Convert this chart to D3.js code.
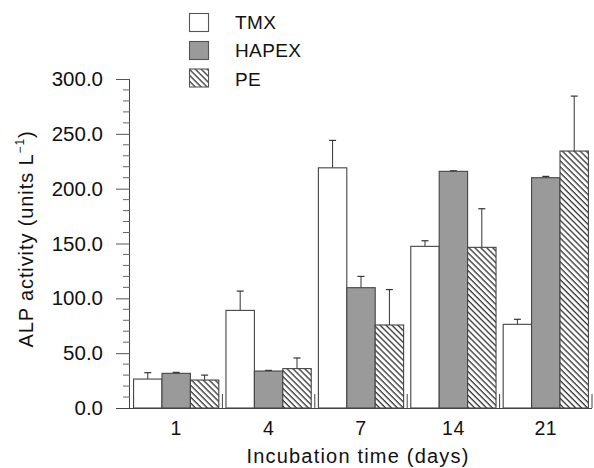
<!DOCTYPE html>
<html><head><meta charset="utf-8">
<script src="https://cdn.jsdelivr.net/npm/d3@7"></script>
<style>body{margin:0;background:#fff}svg{display:block;font-family:"Liberation Sans",Arial,sans-serif}</style>
</head><body><svg id="c" width="594" height="468"></svg>
<script>
const categories = ["1","4","7","14","21"];
const seriesNames = ["TMX","HAPEX","PE"];
const tmx   = [26.4, 89.0, 219.0, 147.4, 76.3];
const tmxErr= [5.8, 17.6, 25.0, 5.1, 4.6];
const hapex = [31.6, 33.7, 109.7, 215.8, 210.0];
const hapexErr = [0.9, 0.6, 10.3, 0.5, 1.2];
const pe    = [25.5, 35.9, 75.7, 146.5, 234.3];
const peErr = [4.5, 9.7, 32.3, 35.2, 50.1];
const yTicks = [0,50,100,150,200,250,300];

const svg = d3.select("#c");
const x0 = 130, x1 = 592, yB = 408, yT = 79;
const y = d3.scaleLinear().domain([0,300]).range([yB,yT]);
const xg = d3.scaleBand().domain(categories).range([x0,x1]).paddingInner(0).paddingOuter(0);
const xs = d3.scaleBand().domain(seriesNames).range([0,xg.bandwidth()]).paddingInner(0).paddingOuter(0.126);

const defs = svg.append("defs");
const pat = defs.append("pattern").attr("id","hatch").attr("patternUnits","userSpaceOnUse")
  .attr("width",4.2).attr("height",4.2).attr("patternTransform","rotate(-45)");
pat.append("rect").attr("width",4.2).attr("height",4.2).attr("fill","#fff");
pat.append("line").attr("x1",1).attr("y1",0).attr("x2",1).attr("y2",4.2).attr("stroke","#222").attr("stroke-width",1.2);

const fills = {TMX:"#ffffff", HAPEX:"#9a9a9a", PE:"url(#hatch)"};
const data = {TMX:[tmx,tmxErr], HAPEX:[hapex,hapexErr], PE:[pe,peErr]};

// bars
seriesNames.forEach(s=>{
  const [vals,errs] = data[s];
  const g = svg.append("g");
  categories.forEach((c,i)=>{
    const bx = xg(c)+xs(s), bw = xs.bandwidth();
    const cx = bx+bw/2;
    g.append("line").attr("x1",cx).attr("x2",cx).attr("y1",y(vals[i])).attr("y2",y(vals[i]+errs[i])).attr("stroke","#333").attr("stroke-width",1);
    g.append("line").attr("x1",cx-3.5).attr("x2",cx+3.5).attr("y1",y(vals[i]+errs[i])).attr("y2",y(vals[i]+errs[i])).attr("stroke","#333").attr("stroke-width",1.2);
    g.append("rect").attr("x",bx).attr("y",y(vals[i])).attr("width",bw).attr("height",yB-y(vals[i]))
      .attr("fill",fills[s]).attr("stroke","#444").attr("stroke-width",1.1);
  });
});

// y axis
const yAxis = d3.axisLeft(y).tickValues(yTicks).tickFormat(d3.format(".1f")).tickSize(14).tickPadding(13);
const ga = svg.append("g").attr("transform",`translate(${x0},0)`).call(yAxis);
ga.select(".domain").attr("stroke","#444").attr("d",`M-0.5,${yT}V${yB}`);
ga.selectAll(".tick line").attr("stroke","#555");
ga.selectAll("text").attr("font-size",20.5).attr("fill","#111");
const minor = d3.range(0,301,10).filter(v=>v%50!==0);
svg.append("g").selectAll("line").data(minor).join("line")
  .attr("x1",x0-7).attr("x2",x0).attr("y1",d=>y(d)).attr("y2",d=>y(d)).attr("stroke","#666");

// x axis
svg.append("line").attr("x1",x0-14).attr("x2",x1).attr("y1",yB+0.5).attr("y2",yB+0.5).attr("stroke","#444");
const seps = categories.map(c=>xg(c)+xg.bandwidth());
svg.append("g").selectAll("line").data(seps).join("line")
  .attr("x1",d=>d).attr("x2",d=>d).attr("y1",yB-14).attr("y2",yB).attr("stroke","#444");
svg.append("g").selectAll("text").data(categories).join("text")
  .attr("x",c=>xg(c)+xg.bandwidth()/2).attr("y",435).attr("text-anchor","middle")
  .attr("font-size",19.5).attr("letter-spacing",0.5).attr("fill","#111").text(d=>d);

svg.append("text").attr("x",358).attr("y",462.5).attr("text-anchor","middle").attr("font-size",20)
  .attr("letter-spacing",1.2).attr("fill","#111").text("Incubation time (days)");

const yl = svg.append("text").attr("transform","translate(33,239) rotate(-90)").attr("text-anchor","middle")
  .attr("font-size",20).attr("letter-spacing",0.9).attr("fill","#111");
yl.append("tspan").text("ALP activity (units L");
yl.append("tspan").attr("font-size",12).attr("dy",-9).text("−1");
yl.append("tspan").attr("dy",9).text(")");

// legend
const lg = svg.append("g");
const legBoxY = [13.5, 41.5, 69];
const legTextY = [28.5, 57, 86];
seriesNames.forEach((s,i)=>{
  lg.append("rect").attr("x",189.5).attr("y",legBoxY[i]).attr("width",19).attr("height",18)
    .attr("fill",fills[s]).attr("stroke","#555").attr("stroke-width",1.1);
  lg.append("text").attr("x",235).attr("y",legTextY[i]).attr("font-size",19).attr("letter-spacing",0.4).attr("fill","#111").text(s);
});
</script></body></html>
